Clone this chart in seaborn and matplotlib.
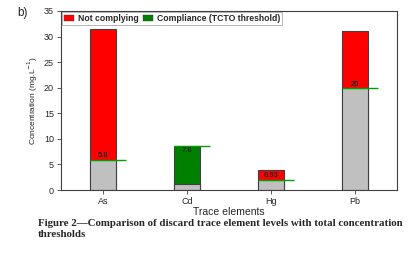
import matplotlib.pyplot as plt
import seaborn as sns
from matplotlib.patches import Patch

elements = ["As", "Cd", "Hg", "Pb"]
totals = [31.5, 8.6, 3.9, 31.1]
base = [5.8, 1.1, 1.9, 20.0]
thresholds = [5.8, 8.6, 1.9, 20.0]
labels = ["5.8", "7.6", "0.93", "20"]
label_y = [6.8, 7.7, 2.8, 20.7]
complies = [False, True, False, False]

red = "#ff0000"
green = "#008000"
gray = "#c0c0c0"
edge = "#404040"

sns.set_style("white")
plt.rcParams["font.family"] = ["Liberation Sans", "DejaVu Sans"]

fig = plt.figure(figsize=(4.08, 2.57), dpi=100)
ax = fig.add_axes([61 / 408, 1 - 190 / 257, 336 / 408, 179 / 257])

bar_colors = [green if c else red for c in complies]
w = 0.3
sns.barplot(ax=ax, x=elements, y=totals, hue=elements, palette=bar_colors,
            legend=False, width=w, edgecolor=edge, linewidth=0.8, saturation=1)
sns.barplot(ax=ax, x=elements, y=base, color=gray, width=w,
            edgecolor=edge, linewidth=0.8, saturation=1)

for i, (t, lab, ly) in enumerate(zip(thresholds, labels, label_y)):
    ax.hlines(t, i - w / 2, i + w / 2 + 0.12, color="#00a000", lw=1, zorder=5)
    ax.text(i, ly, lab, ha="center", va="center", fontsize=5.5,
            fontweight="bold", zorder=6)

ax.set_xlim(-0.5, 3.5)
ax.set_ylim(0, 35)
ax.set_yticks(range(0, 36, 5))
ax.tick_params(axis="both", labelsize=6.5, length=3, width=0.6, color=edge,
               direction="out", left=True, bottom=True, pad=2)
for s in ax.spines.values():
    s.set_color(edge)
    s.set_linewidth(0.8)
ax.set_xlabel("Trace elements", fontsize=7.5, labelpad=1)
ax.set_ylabel("Concentration (mg.L$^{-1}$)", fontsize=6, labelpad=3)

handles = [Patch(facecolor=red, edgecolor=edge, linewidth=0.3),
           Patch(facecolor=green, edgecolor=edge, linewidth=0.3)]
leg = ax.legend(handles, ["Not complying", "Compliance (TCTO threshold)"],
                loc="upper left", ncol=2, frameon=True,
                prop={"weight": "bold", "size": 6.2}, borderaxespad=0.15,
                handlelength=1.2, handleheight=0.8, handletextpad=0.4,
                columnspacing=0.5, borderpad=0.2, fancybox=False)
leg.get_frame().set_edgecolor("#808080")
leg.get_frame().set_linewidth(0.5)

fig.text(17 / 408, 1 - 13 / 257, "b)", fontsize=8.5, va="center")
fig.text(38 / 408, 1 - 229 / 257,
         "Figure 2\u2014Comparison of discard trace element levels with total concentration\nthresholds",
         fontsize=7.8, fontweight="bold", family=["Liberation Serif", "DejaVu Serif"],
         va="center", linespacing=1.2)

fig.savefig("out.png", dpi=100)
